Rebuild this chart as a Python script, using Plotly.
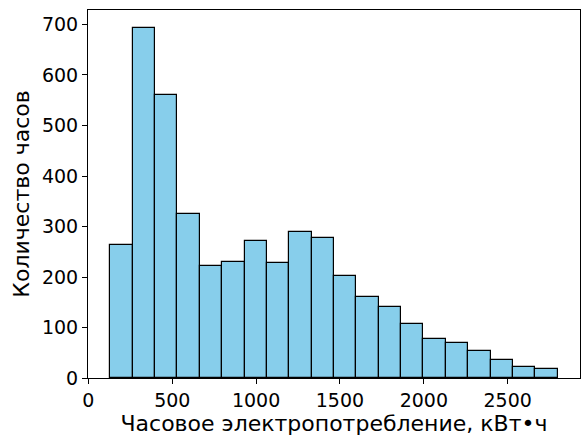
import numpy as np
import plotly.graph_objects as go

# Histogram data
counts = [263, 694, 561, 325, 222, 230, 272, 227, 290, 278,
          201, 160, 140, 107, 77, 69, 54, 36, 22, 17]
bin_min = 131.0
bin_max = 2798.0
x_title = "Часовое электропотребление, кВт•ч"
y_title = "Количество часов"
x_ticks = [0, 500, 1000, 1500, 2000, 2500]
y_ticks = [0, 100, 200, 300, 400, 500, 600, 700]

edges = np.linspace(bin_min, bin_max, len(counts) + 1)
centers = (edges[:-1] + edges[1:]) / 2
widths = np.diff(edges)

span = bin_max - bin_min
xr = [bin_min - 0.05 * span, bin_max + 0.05 * span]
yr = [0, max(counts) * 1.05]

fig = go.Figure(go.Bar(
    x=centers, y=counts, width=widths,
    marker=dict(color="#87CEEB", line=dict(color="black", width=1.2)),
    hoverinfo="x+y",
))

font = dict(family="DejaVu Sans", color="black")
fig.update_layout(
    width=585, height=438,
    margin=dict(l=88, r=5, t=10, b=60),
    plot_bgcolor="white", paper_bgcolor="white",
    showlegend=False,
    bargap=0,
    font=font,
)
fig.update_xaxes(
    range=xr, tickvals=x_ticks, ticks="outside", ticklen=5, tickwidth=1,
    tickcolor="black", showline=True, linecolor="black", linewidth=1,
    mirror=True, showgrid=False, zeroline=False,
    tickfont=dict(size=19, family="DejaVu Sans"),
    title=dict(text=x_title, font=dict(size=22, family="DejaVu Sans"), standoff=4),
)
fig.update_yaxes(
    range=yr, tickvals=y_ticks, ticks="outside", ticklen=5, tickwidth=1,
    tickcolor="black", showline=True, linecolor="black", linewidth=1,
    mirror=True, showgrid=False, zeroline=False,
    tickfont=dict(size=19, family="DejaVu Sans"),
    title=dict(text=y_title, font=dict(size=22, family="DejaVu Sans"), standoff=6),
)

fig.write_html("out.html")
